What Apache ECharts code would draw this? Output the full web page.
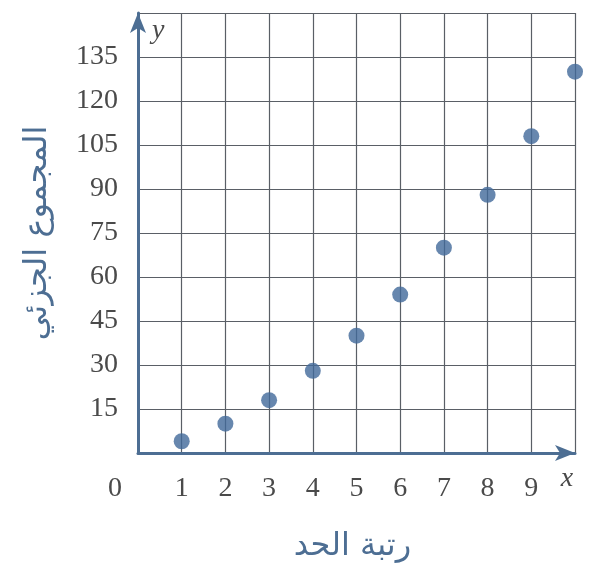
<!DOCTYPE html>
<html>
<head>
<meta charset="utf-8">
<script src="https://cdn.jsdelivr.net/npm/echarts@6/dist/echarts.min.js"></script>
<style>
  html, body { margin: 0; padding: 0; background: #fff; }
  #main { width: 590px; height: 574px; }
</style>
</head>
<body>
<div id="main"></div>
<script>
// term number n and partial sum S_n
const terms = [1, 2, 3, 4, 5, 6, 7, 8, 9, 10];
const partialSums = [4, 10, 18, 28, 40, 54, 70, 88, 108, 130];
const yTicks = [15, 30, 45, 60, 75, 90, 105, 120, 135];
const xName = 'رتبة الحد';
const yName = 'المجموع الجزئي';

const axisBlue = '#4d6e93';
const gridGray = '#5a5f66';
const labelGray = '#4a4a4a';
const serif = '"Liberation Serif", "DejaVu Serif", serif';
const arabic = '"DejaVu Sans", "Noto Sans", sans-serif';

const chart = echarts.init(document.getElementById('main'));
chart.setOption({
  animation: false,
  grid: { left: 138, right: 15, top: 13, bottom: 121 },
  xAxis: [{
    type: 'value',
    min: 0, max: 10, interval: 1,
    name: 'x',
    nameLocation: 'end',
    nameGap: -8,
    nameTextStyle: {
      fontFamily: serif, fontStyle: 'italic', fontSize: 28, color: labelGray,
      align: 'center', verticalAlign: 'top', padding: [12, 0, 0, 0]
    },
    axisLine: { show: true, lineStyle: { color: axisBlue, width: 3 }, symbol: ['none', 'arrow'], symbolSize: [12, 20] },
    axisTick: { show: false },
    splitLine: { show: true, lineStyle: { color: gridGray, width: 1.2 } },
    axisLabel: {
      margin: 22,
      fontFamily: serif, fontSize: 28, color: labelGray,
      formatter: v => v === 0 ? '{o|0}' : (v === 10 ? '' : String(v)),
      rich: { o: { fontFamily: serif, fontSize: 28, color: labelGray, padding: [0, 46, 0, 0] } }
    }
  }, {
    type: 'value',
    min: 0, max: 10,
    position: 'bottom',
    name: xName,
    nameLocation: 'middle',
    nameGap: 78,
    nameTextStyle: { fontFamily: arabic, fontSize: 32, color: axisBlue, padding: [0, 8, 0, 0] },
    axisLine: { show: false }, axisTick: { show: false }, axisLabel: { show: false }, splitLine: { show: false }
  }],
  yAxis: [{
    type: 'value',
    min: 0, max: 150, interval: 15,
    name: 'y',
    nameLocation: 'end',
    nameGap: -32,
    nameTextStyle: {
      fontFamily: serif, fontStyle: 'italic', fontSize: 28, color: labelGray,
      align: 'left', padding: [0, 0, 0, 14]
    },
    axisLine: { show: true, lineStyle: { color: axisBlue, width: 3 }, symbol: ['none', 'arrow'], symbolSize: [12, 20] },
    axisTick: { show: false },
    splitLine: { show: true, lineStyle: { color: gridGray, width: 1.2 } },
    axisLabel: {
      margin: 20,
      fontFamily: serif, fontSize: 28, color: labelGray,
      padding: [10, 0, 0, 0],
      formatter: v => yTicks.indexOf(v) >= 0 ? String(v) : ''
    }
  }, {
    type: 'value',
    min: 0, max: 150,
    position: 'left',
    name: yName,
    nameLocation: 'middle',
    nameRotate: 90,
    nameGap: 84,
    nameTextStyle: { fontFamily: arabic, fontSize: 32, color: axisBlue },
    axisLine: { show: false }, axisTick: { show: false }, axisLabel: { show: false }, splitLine: { show: false }
  }],
  series: [{
    type: 'scatter',
    symbolSize: 16,
    itemStyle: { color: '#41699a' },
    data: terms.map((n, i) => [n, partialSums[i]])
  }]
});
</script>
</body>
</html>
